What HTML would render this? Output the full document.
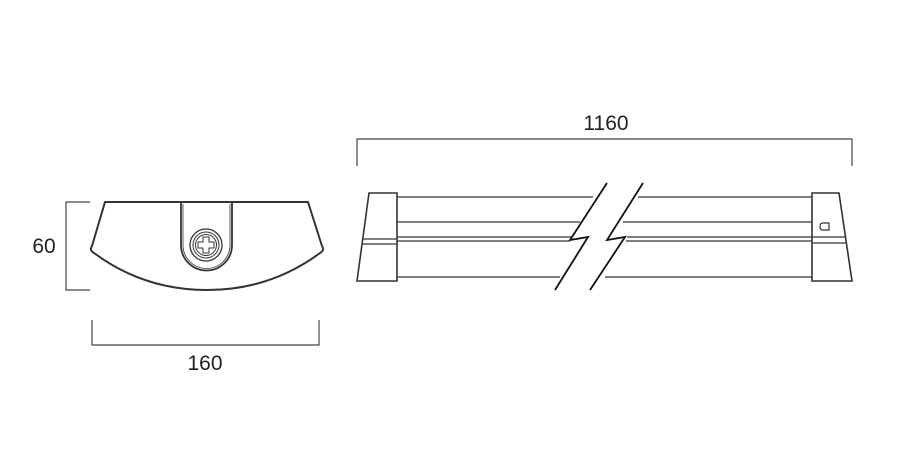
<!DOCTYPE html>
<html><head><style>body{margin:0;background:#fff}svg{display:block}text{font-family:"Liberation Sans",sans-serif;font-size:21px;fill:#222}</style></head>
<body>
<svg width="900" height="450" viewBox="0 0 900 450" xmlns="http://www.w3.org/2000/svg">
<g fill="none" stroke="#444" stroke-width="1.2">
<!-- dims -->
<path d="M90 202H66V290H90"/>
<path d="M92 320V345H319V320"/>
<path d="M357 166V139H852V166"/>
</g>
<text x="44" y="253" text-anchor="middle">60</text>
<text x="205" y="370" text-anchor="middle">160</text>
<text x="606" y="130" text-anchor="middle">1160</text>
<!-- end view -->
<g fill="none" stroke="#333" stroke-width="2" stroke-linejoin="round">
<path d="M105 202H308L322 246Q325 250 320 253Q270 290 207 290Q144 290 94 253Q89 250 92 246Z"/>
<path d="M181 202V245A25.5 25.5 0 0 0 232 245V202" stroke-width="1.8"/>
<path d="M183 204V245A23.5 23.5 0 0 0 230 245V204" stroke-width="0.8"/>
<circle cx="206" cy="245" r="16" stroke-width="1.3"/>
<circle cx="206" cy="245" r="13" stroke-width="1"/>
<circle cx="206" cy="245" r="10.5" stroke-width="1"/>
<path d="M203 237H209V242H214V248H209V253H203V248H198V242H203Z" stroke-width="1"/>
</g>
<!-- side view -->
<g fill="none" stroke="#333" stroke-width="1.3">
<path d="M369 193H397V281H357Z" stroke-width="1.6"/>
<path d="M362 239H397M362 244H397"/>
<path d="M397 197H593M397 222H580M397 237H572M397 241H570M397 277H560"/>
<path d="M638 197H812M623 222H812M627 237H812M626 241H812M605 277H812"/>
<path d="M812 193H839L852 281H812Z" stroke-width="1.6"/>
<path d="M812 237H846M812 243H847"/>
<path d="M823 223H829V230H823Q820 230 820 226.5Q820 223 823 223Z" stroke-width="1.2"/>
<path d="M607 183L570 240L588 237L555 290" stroke="#111" stroke-width="1.8"/>
<path d="M643 183L607 240L625 237L590 290" stroke="#111" stroke-width="1.8"/>
</g>
</svg>
</body></html>
